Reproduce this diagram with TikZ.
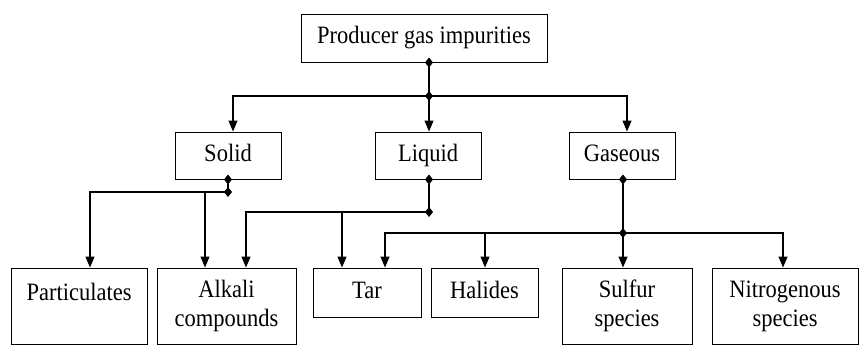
\documentclass[tikz,border=0pt]{standalone}
\usepackage{fontspec}
\setmainfont{Liberation Serif}[FakeStretch=0.9]
\usetikzlibrary{arrows.meta}
\newcommand{\boxfont}{\fontsize{25}{29}\selectfont}
\begin{document}
\begin{tikzpicture}[x=1pt,y=-1pt]
        \tikzset{
            box/.style={draw, line width=1pt, inner sep=0pt, align=center, font=\boxfont},
            one/.style={box, text height=17pt, text depth=6pt},
            dia/.style={{Diamond[length=10pt,width=8pt]}-{Diamond[length=10pt,width=8pt]},
            shorten <=-5pt, shorten >=-5pt, line width=1.2pt},
            arr/.style={-{Triangle[length=11pt,width=9pt]}, line width=1.2pt}
            }
            \useasboundingbox (0,0) rectangle (859,349);

            \node[one, minimum width=246pt, minimum height=48pt] (top) at (424,38) {Producer gas impurities};
            \node[one, minimum width=106pt, minimum height=47pt] (solid) at (228,155.5) {Solid};
            \node[one, minimum width=106pt, minimum height=47pt] (liquid) at (428,155.5) {Liquid};
            \node[one, minimum width=106pt, minimum height=47pt] (gaseous) at (622,155.5) {Gaseous};
            \node[box, minimum width=136pt, minimum height=76pt] (part) at (79,306) {Particulates\\~};
            \node[box, minimum width=139pt, minimum height=76pt] (alkali) at (226.5,306) {Alkali\\compounds};
            \node[one, minimum width=108pt, minimum height=49pt] (tar) at (367,292.5) {Tar};
            \node[one, minimum width=107pt, minimum height=49pt] (halides) at (484.5,292.5) {Halides};
            \node[box, minimum width=130pt, minimum height=76pt] (sulfur) at (627,306) {Sulfur\\species};
            \node[box, minimum width=146pt, minimum height=76pt] (nitro) at (785,306) {Nitrogenous\\species};

            \coordinate (j0) at (429,96);
            \coordinate (j1) at (228,192);
            \coordinate (j2) at (429,212);
            \coordinate (j3) at (623,233);

            \draw[dia] (j0 |- top.south) -- (j0);
            \draw[arr] (j0) -| ([xshift=5pt]solid.north);
            \draw[arr] (j0) -- (j0 |- liquid.north);
            \draw[arr] (j0) -| ([xshift=5pt]gaseous.north);

            \draw[dia] (j1 |- solid.south) -- (j1);
            \draw[arr] (j1) -| ([xshift=11pt]part.north);
            \draw[arr] (j1) -| ([xshift=-21.5pt]alkali.north);

            \draw[dia] (j2 |- liquid.south) -- (j2);
            \draw[arr] (j2) -| ([xshift=19.5pt]alkali.north);
            \draw[arr] (j2) -| ([xshift=-25pt]tar.north);

            \draw[dia] (j3 |- gaseous.south) -- (j3);
            \draw[arr] (j3) -| ([xshift=18pt]tar.north);
            \draw[arr] (j3) -| ([xshift=0.5pt]halides.north);
            \draw[arr] (j3) -- (j3 |- sulfur.north);
            \draw[arr] (j3) -| ([xshift=-2pt]nitro.north);
        \end{tikzpicture}
\end{document}
